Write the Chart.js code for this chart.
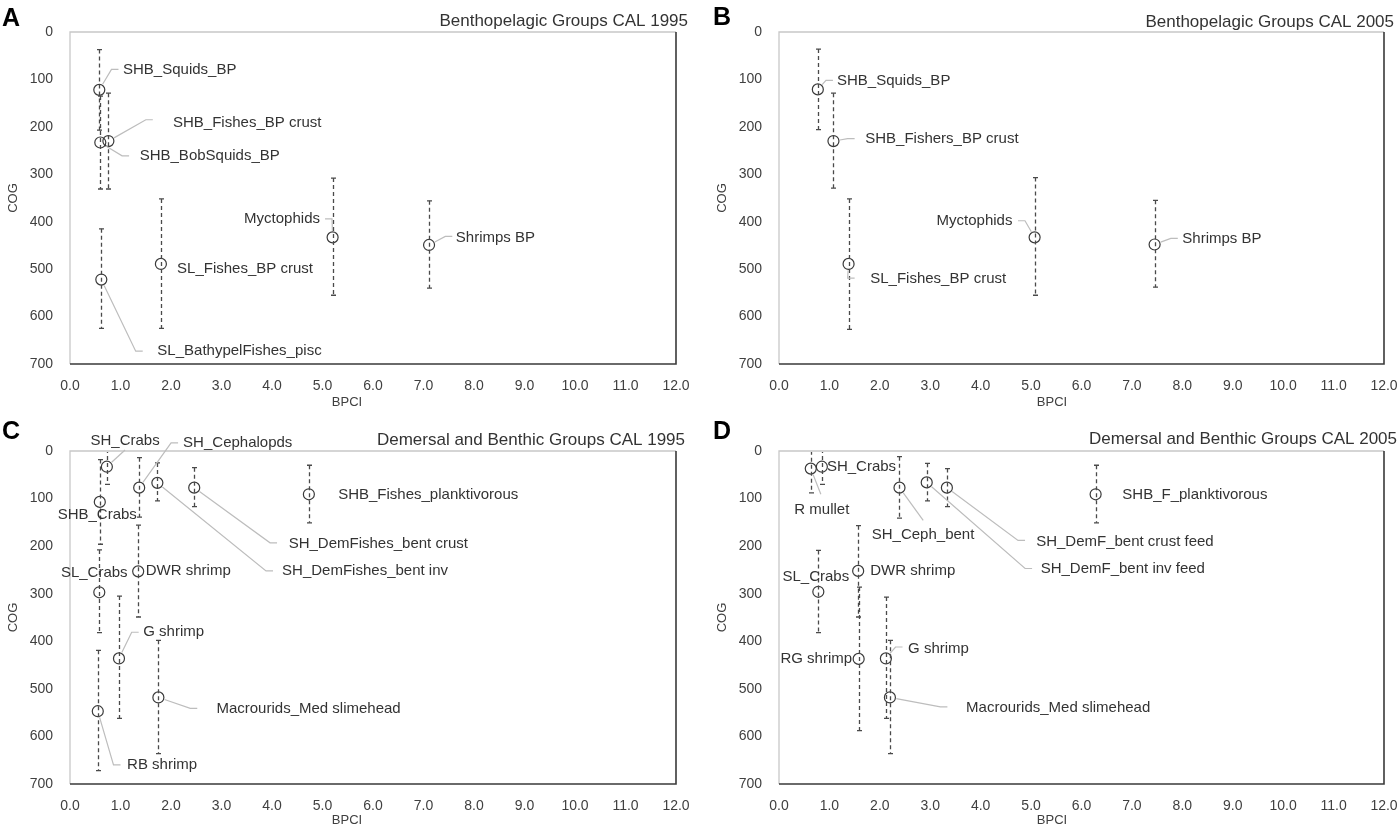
<!DOCTYPE html>
<html>
<head>
<meta charset="utf-8">
<script src="https://cdn.jsdelivr.net/npm/chart.js@4.4.1/dist/chart.umd.min.js"></script>
<style>
  body { margin: 0; background: #fff; width: 1399px; height: 825px; overflow: hidden; position: relative; }
  .panel { position: absolute; }
</style>
</head>
<body>
<div class="panel" style="left:0;top:0"><canvas id="chartA" width="700" height="410"></canvas></div>
<div class="panel" style="left:700px;top:0"><canvas id="chartB" width="699" height="410"></canvas></div>
<div class="panel" style="left:0;top:410px"><canvas id="chartC" width="700" height="415"></canvas></div>
<div class="panel" style="left:700px;top:410px"><canvas id="chartD" width="699" height="415"></canvas></div>
<script>
// axis ticks
const bpciTicks = [0, 1, 2, 3, 4, 5, 6, 7, 8, 9, 10, 11, 12];
const cogTicks = [0, 100, 200, 300, 400, 500, 600, 700];

// A - Benthopelagic Groups CAL 1995
const groupsA = ['SHB_Squids_BP', 'SHB_Fishes_BP crust', 'SHB_BobSquids_BP', 'SL_Fishes_BP crust',
                 'SL_BathypelFishes_pisc', 'Myctophids', 'Shrimps BP'];
const bpciA = [0.58, 0.76, 0.60, 1.80, 0.62, 5.20, 7.11];
const cogA = [122, 230, 233, 489, 522, 433, 449];
const cogLowA = [37, 129, 135, 352, 415, 308, 356];
const cogHighA = [207, 331, 331, 625, 625, 555, 540];

// B - Benthopelagic Groups CAL 2005
const groupsB = ['SHB_Squids_BP', 'SHB_Fishers_BP crust', 'SL_Fishes_BP crust', 'Myctophids', 'Shrimps BP'];
const bpciB = [0.77, 1.08, 1.38, 5.07, 7.45];
const cogB = [121, 230, 489, 433, 448];
const cogLowB = [36, 129, 352, 307, 355];
const cogHighB = [206, 329, 627, 555, 538];

// C - Demersal and Benthic Groups CAL 1995
const groupsC = ['SH_Crabs', 'SHB_Crabs', 'SH_Cephalopds', 'SH_DemFishes_bent inv', 'SH_DemFishes_bent crust',
                 'SHB_Fishes_planktivorous', 'DWR shrimp', 'SL_Crabs', 'G shrimp', 'Macrourids_Med slimehead', 'RB shrimp'];
const bpciC = [0.73, 0.59, 1.37, 1.73, 2.46, 4.73, 1.35, 0.58, 0.97, 1.75, 0.55];
const cogC = [33, 107, 77, 67, 77, 91, 253, 297, 436, 518, 547];
const cogLowC = [-4, 18, 14, 25, 35, 30, 156, 208, 305, 398, 419];
const cogHighC = [70, 196, 139, 105, 117, 151, 349, 382, 562, 636, 672];

// D - Demersal and Benthic Groups CAL 2005
const groupsD = ['R mullet', 'SH_Crabs', 'SH_Ceph_bent', 'SH_DemF_bent inv feed', 'SH_DemF_bent crust feed',
                 'SHB_F_planktivorous', 'DWR shrimp', 'SL_Crabs', 'RG shrimp', 'G shrimp', 'Macrourids_Med slimehead'];
const bpciD = [0.63, 0.85, 2.39, 2.93, 3.33, 6.28, 1.57, 0.78, 1.58, 2.12, 2.20];
const cogD = [37, 33, 77, 66, 77, 91, 252, 296, 437, 436, 518];
const cogLowD = [-15, -4, 12, 26, 37, 30, 157, 209, 286, 307, 398];
const cogHighD = [88, 70, 141, 105, 117, 151, 349, 382, 588, 562, 636];

// label placement [textX, textY, align, leaderEndX, leaderEndY] (null = no leader line)
const labelPosA = [
  [1.05, 79, 'left', 0.96, 79], [2.04, 191, 'left', 1.64, 185], [1.38, 261, 'left', 1.17, 261],
  [2.12, 499, 'left', null, null], [1.73, 673, 'left', 1.44, 673], [4.95, 395, 'right', 5.05, 394],
  [7.64, 433, 'left', 7.57, 431]
];
const labelPosB = [
  [1.15, 104, 'left', 1.07, 102], [1.71, 226, 'left', 1.5, 225], [1.81, 520, 'left', 1.5, 519],
  [4.63, 399, 'right', 4.74, 398], [8.0, 436, 'left', 7.91, 435]
];
const labelPosC = [
  [1.09, -21, 'center', 1.09, -2], [0.54, 135, 'center', null, null], [2.24, -17, 'left', 2.14, -17],
  [4.2, 252, 'left', 4.02, 252], [4.33, 195, 'left', 4.1, 193], [5.31, 93, 'left', null, null],
  [1.5, 253, 'left', null, null], [0.48, 257, 'center', null, null], [1.45, 381, 'left', 1.36, 381],
  [2.9, 542, 'left', 2.52, 541], [1.13, 660, 'left', 1.0, 660]
];
const labelPosD = [
  [0.85, 123, 'center', 0.83, 91], [0.95, 33, 'left', null, null], [1.84, 177, 'left', 2.86, 146],
  [5.19, 247, 'left', 5.02, 247], [5.1, 190, 'left', 4.88, 188], [6.81, 93, 'left', null, null],
  [1.81, 252, 'left', null, null], [0.73, 265, 'center', null, null], [1.45, 437, 'right', null, null],
  [2.56, 415, 'left', 2.45, 412], [3.71, 539, 'left', 3.34, 538]
];

const FONT = '"Liberation Sans", Arial, sans-serif';

const panelDecor = {
  id: 'panelDecor',
  beforeDatasetsDraw(chart) {
    const ctx = chart.ctx;
    const a = chart.chartArea;
    ctx.save();
    ctx.lineWidth = 1.3;
    ctx.strokeStyle = '#c8c8c8';
    ctx.beginPath();
    ctx.moveTo(a.left, a.bottom);
    ctx.lineTo(a.left, a.top);
    ctx.lineTo(a.right, a.top);
    ctx.stroke();
    ctx.strokeStyle = '#3a3a3a';
    ctx.lineWidth = 1.6;
    ctx.beginPath();
    ctx.moveTo(a.right, a.top);
    ctx.lineTo(a.right, a.bottom);
    ctx.lineTo(a.left, a.bottom);
    ctx.stroke();
    ctx.restore();
  },
  afterDatasetsDraw(chart) {
    const p = chart.options.plugins.panelDecor;
    const ctx = chart.ctx;
    const a = chart.chartArea;
    const xs = chart.scales.x, ys = chart.scales.y;

    // error bars
    ctx.save();
    ctx.beginPath();
    ctx.rect(a.left, a.top + 1, a.right - a.left, a.bottom - a.top - 1);
    ctx.clip();
    ctx.strokeStyle = '#4a4a4a';
    ctx.lineWidth = 1.3;
    p.x.forEach(function (xv, i) {
      const px = Math.round(xs.getPixelForValue(xv)) + 0.5;
      const y1 = ys.getPixelForValue(p.lo[i]);
      const y2 = ys.getPixelForValue(p.hi[i]);
      ctx.setLineDash([4, 3]);
      ctx.beginPath();
      ctx.moveTo(px, y1);
      ctx.lineTo(px, y2);
      ctx.stroke();
      ctx.setLineDash([]);
      ctx.beginPath();
      ctx.moveTo(px - 2.5, y1);
      ctx.lineTo(px + 2.5, y1);
      ctx.moveTo(px - 2.5, y2);
      ctx.lineTo(px + 2.5, y2);
      ctx.stroke();
    });
    ctx.restore();

    // leader lines and data labels
    ctx.save();
    ctx.font = '15px ' + FONT;
    ctx.textBaseline = 'middle';
    p.labels.forEach(function (lab, i) {
      const tx = xs.getPixelForValue(lab[0]);
      const ty = ys.getPixelForValue(lab[1]);
      if (lab[3] !== null) {
        const ex = xs.getPixelForValue(lab[3]);
        const ey = ys.getPixelForValue(lab[4]);
        const cx = xs.getPixelForValue(p.x[i]);
        const cy = ys.getPixelForValue(p.y[i]);
        let hook = 0;
        if (lab[2] === 'left' && ex < tx) hook = -7;
        if (lab[2] === 'right' && ex > tx) hook = 7;
        const bx = ex + hook, by = ey;
        const d = Math.hypot(bx - cx, by - cy) || 1;
        ctx.strokeStyle = '#bdbdbd';
        ctx.lineWidth = 1.2;
        ctx.beginPath();
        ctx.moveTo(cx + (bx - cx) / d * 6.5, cy + (by - cy) / d * 6.5);
        ctx.lineTo(bx, by);
        ctx.lineTo(ex, ey);
        ctx.stroke();
      }
      ctx.fillStyle = '#333';
      ctx.textAlign = lab[2];
      ctx.fillText(p.names[i], tx, ty);
    });

    // titles and axis names
    ctx.textAlign = 'right';
    ctx.font = '17px ' + FONT;
    ctx.fillStyle = '#333';
    ctx.fillText(p.title, p.titleX, p.titleY);
    ctx.textAlign = 'left';
    ctx.textBaseline = 'alphabetic';
    ctx.font = 'bold 25px ' + FONT;
    ctx.fillStyle = '#000';
    ctx.fillText(p.letter, p.letterX, p.letterY);
    ctx.font = '13px ' + FONT;
    ctx.fillStyle = '#404040';
    ctx.textAlign = 'center';
    ctx.textBaseline = 'middle';
    ctx.fillText('BPCI', p.bpciX, p.bpciY);
    ctx.translate(p.cogX, (a.top + a.bottom) / 2);
    ctx.rotate(-Math.PI / 2);
    ctx.fillText('COG', 0, 0);
    ctx.restore();
  }
};

function makeChart(id, cfg) {
  const ctx = document.getElementById(id).getContext('2d');
  return new Chart(ctx, {
    type: 'scatter',
    data: {
      datasets: [{
        data: cfg.x.map(function (v, i) { return { x: v, y: cfg.y[i] }; }),
        pointStyle: 'circle',
        pointRadius: 5.5,
        pointHoverRadius: 5.5,
        borderColor: '#3a3a3a',
        backgroundColor: 'rgba(0,0,0,0)',
        borderWidth: 1.2
      }]
    },
    options: {
      responsive: false,
      animation: false,
      layout: { padding: { left: 0, right: cfg.padR, top: cfg.padT, bottom: 0 } },
      scales: {
        x: {
          type: 'linear', min: 0, max: 12,
          afterBuildTicks: function (s) { s.ticks = bpciTicks.map(function (v) { return { value: v }; }); },
          afterFit: function (s) { s.height = cfg.xH; s.paddingLeft = 0; s.paddingRight = 0; },
          ticks: {
            autoSkip: false, padding: 14, color: '#404040',
            font: { size: 14, family: FONT },
            callback: function (v) { return Number(v).toFixed(1); }
          },
          grid: { display: false, drawTicks: false },
          border: { display: false }
        },
        y: {
          type: 'linear', min: 0, max: 700, reverse: true,
          afterBuildTicks: function (s) { s.ticks = cogTicks.map(function (v) { return { value: v }; }); },
          afterFit: function (s) { s.width = cfg.yW; s.paddingTop = 0; s.paddingBottom = 0; },
          ticks: { padding: 17, color: '#404040', font: { size: 14, family: FONT } },
          grid: { display: false, drawTicks: false },
          border: { display: false }
        }
      },
      plugins: {
        legend: { display: false },
        tooltip: { enabled: false },
        panelDecor: cfg
      }
    },
    plugins: [panelDecor]
  });
}

makeChart('chartA', {
  letter: 'A', title: 'Benthopelagic Groups CAL 1995',
  names: groupsA, x: bpciA, y: cogA, lo: cogLowA, hi: cogHighA, labels: labelPosA,
  yW: 70, padR: 24, padT: 32, xH: 46,
  titleX: 688, titleY: 21, letterX: 2, letterY: 26, cogX: 13, bpciX: 347, bpciY: 402
});
makeChart('chartB', {
  letter: 'B', title: 'Benthopelagic Groups CAL 2005',
  names: groupsB, x: bpciB, y: cogB, lo: cogLowB, hi: cogHighB, labels: labelPosB,
  yW: 79, padR: 15, padT: 32, xH: 46,
  titleX: 694, titleY: 22, letterX: 13, letterY: 25, cogX: 22, bpciX: 352, bpciY: 402
});
makeChart('chartC', {
  letter: 'C', title: 'Demersal and Benthic Groups CAL 1995',
  names: groupsC, x: bpciC, y: cogC, lo: cogLowC, hi: cogHighC, labels: labelPosC,
  yW: 70, padR: 24, padT: 41, xH: 41,
  titleX: 685, titleY: 30, letterX: 2, letterY: 29, cogX: 13, bpciX: 347, bpciY: 410
});
makeChart('chartD', {
  letter: 'D', title: 'Demersal and Benthic Groups CAL 2005',
  names: groupsD, x: bpciD, y: cogD, lo: cogLowD, hi: cogHighD, labels: labelPosD,
  yW: 79, padR: 15, padT: 41, xH: 41,
  titleX: 697, titleY: 29, letterX: 13, letterY: 29, cogX: 22, bpciX: 352, bpciY: 410
});
</script>
</body>
</html>
